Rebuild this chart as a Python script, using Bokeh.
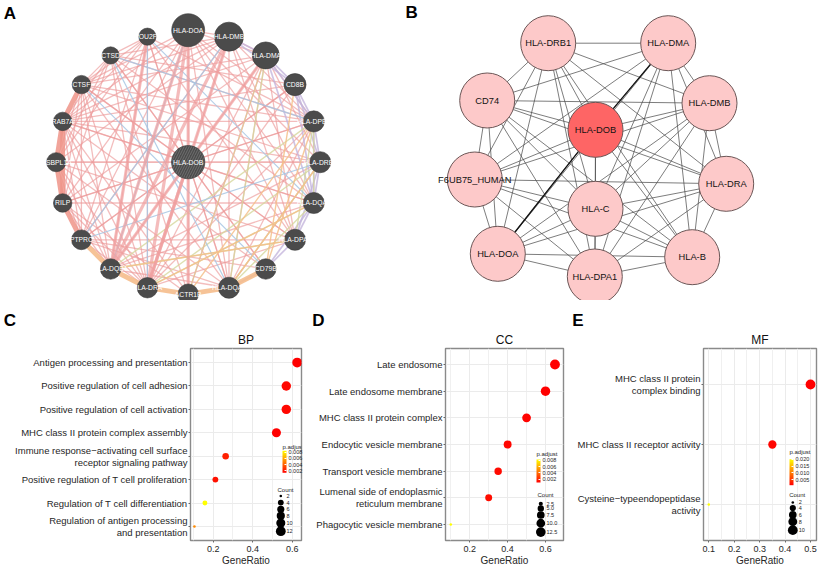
import math
from itertools import combinations
from bokeh.plotting import figure
from bokeh.models import (ColumnDataSource, Range1d, FixedTicker, LinearColorMapper,
                          ColorBar, PrintfTickFormatter, Title, AllLabels)
from bokeh.layouts import column, row
from bokeh.embed import file_html
from bokeh.resources import INLINE
from bokeh.core.properties import value

FONT = "Liberation Sans"

# ======================= DATA =======================
# ---- Panel A: GeneMANIA network (query gene in the centre, related genes clockwise from top)
A_query = "HLA-DOB"
A_genes = ["HLA-DOA", "HLA-DMB", "HLA-DMA", "CD8B", "HLA-DPB1", "HLA-DRB3", "HLA-DQA2",
           "HLA-DPA1", "CD79B", "HLA-DQA1", "ACTR1B", "HLA-DRA", "HLA-DQB1", "PTPRC",
           "RILP", "OSBPL1A", "RAB7A", "CTSF", "CTSD", "POU2F2"]
A_scores = [1.00, 0.88, 0.82, 0.67, 0.64, 0.64, 0.64, 0.64, 0.62, 0.64,
            0.62, 0.62, 0.62, 0.60, 0.56, 0.58, 0.56, 0.56, 0.52, 0.52]
A_query_score = 1.01
# edges: index 20 = query gene
A_physical = [(20, 0), (20, 1), (20, 2), (20, 3), (20, 4), (20, 5), (20, 6), (20, 7), (20, 8), (20, 9),
              (20, 10), (20, 11), (20, 12), (20, 13), (20, 14), (20, 15), (20, 16), (20, 17), (20, 18), (20, 19),
              (0, 1), (0, 2), (0, 4), (0, 5), (0, 6), (0, 7), (0, 9), (0, 13), (0, 14), (0, 16), (0, 17),
              (1, 2), (1, 4), (1, 6), (1, 7), (1, 9), (1, 13), (1, 15), (1, 16), (1, 17), (1, 18),
              (2, 4), (2, 5), (2, 7), (2, 9), (2, 11), (2, 14), (2, 16), (2, 17),
              (3, 11), (3, 13), (3, 16), (3, 18),
              (4, 9), (4, 11), (4, 14), (4, 16), (4, 17), (4, 18), (4, 19),
              (5, 9), (5, 12), (5, 15), (5, 16), (5, 17),
              (6, 12), (6, 14), (6, 16), (6, 18),
              (7, 11), (7, 13), (7, 15), (7, 17), (7, 19),
              (8, 13), (8, 16), (8, 18),
              (9, 12), (9, 13), (9, 15), (9, 17), (9, 19),
              (10, 14), (10, 16), (10, 18),
              (11, 13), (11, 14), (11, 15), (11, 16), (11, 17), (11, 18), (11, 19),
              (12, 14), (12, 15), (12, 16), (12, 17), (12, 19),
              (13, 15), (13, 16), (13, 17), (13, 19),
              (14, 17), (14, 18), (15, 17), (15, 18), (15, 19), (16, 18), (16, 19),
              (17, 18), (17, 19), (18, 19)]
A_physical_strong = [(0, 11), (1, 11), (20, 11), (0, 12), (2, 12), (1, 12), (0, 10), (19, 12)]
A_ring_strong = [(16, 15), (15, 14), (16, 14), (14, 13), (17, 16)]
A_predicted_strong = [(12, 11), (11, 10), (10, 9), (9, 8), (13, 12)]
A_predicted = [(9, 5), (8, 3), (10, 4), (11, 6), (12, 7), (10, 2), (8, 4)]
A_coexpression = [(1, 2), (2, 3), (3, 4), (4, 5), (5, 6), (6, 7), (7, 8), (8, 9),
                  (2, 4), (3, 5), (4, 6), (5, 7), (6, 8), (1, 3), (3, 6), (2, 6)]
A_shared_domains = [(4, 6), (4, 7), (5, 9), (6, 9), (7, 12), (4, 12), (5, 11), (6, 11), (2, 9)]
A_colocalization = [(19, 11), (18, 9), (0, 12), (2, 10), (13, 5), (17, 8), (1, 13), (19, 6), (18, 4)]

# ---- Panel B: STRING protein-protein interaction network (layout coordinates)
B_nodes = ["HLA-DRB1", "HLA-DMA", "CD74", "HLA-DOB", "HLA-DMB", "F6UB75_HUMAN",
           "HLA-DRA", "HLA-C", "HLA-DOA", "HLA-DPA1", "HLA-B"]
B_layout_x = [137.7, 257.7, 76.7, 185.0, 299.0, 64.3, 315.7, 185.0, 87.3, 184.3, 281.7]
B_layout_y = [42.7, 42.7, 100.0, 129.3, 102.7, 179.0, 183.3, 208.3, 253.3, 276.0, 256.7]
B_query = "HLA-DOB"
B_edges = list(combinations(B_nodes, 2))          # every pair of proteins is linked
B_strong_edges = [("HLA-DOB", "HLA-DMA"), ("HLA-DOB", "HLA-DOA")]

# ---- Panels C-E: GO enrichment dot plots (terms listed top to bottom)
C_terms = ["Antigen processing and presentation",
           "Positive regulation of cell adhesion",
           "Positive regulation of cell activation",
           "MHC class II protein complex assembly",
           "Immune response\u2212activating cell surface\nreceptor signaling pathway",
           "Positive regulation of T cell proliferation",
           "Regulation of T cell differentiation",
           "Regulation of antigen processing\nand presentation"]
C_ratio = [0.625, 0.57, 0.57, 0.52, 0.263, 0.211, 0.158, 0.105]
C_count = [12, 11, 11, 10, 5, 4, 3, 2]
C_padj = [0.0013, 0.0015, 0.0015, 0.0013, 0.0022, 0.0018, 0.0085, 0.0052]

D_terms = ["Late endosome",
           "Late endosome membrane",
           "MHC class II protein complex",
           "Endocytic vesicle membrane",
           "Transport vesicle membrane",
           "Lumenal side of endoplasmic\nreticulum membrane",
           "Phagocytic vesicle membrane"]
D_ratio = [0.65, 0.60, 0.50, 0.40, 0.35, 0.30, 0.10]
D_count = [13, 12, 10, 8, 7, 6, 2]
D_padj = [0.0009, 0.0009, 0.0010, 0.0011, 0.0012, 0.0013, 0.0083]

E_terms = ["MHC class II protein\ncomplex binding",
           "MHC class II receptor activity",
           "Cysteine\u2212typeendopeptidase\nactivity"]
E_ratio = [0.50, 0.35, 0.10]
E_count = [10, 7, 2]
E_padj = [0.0008, 0.0012, 0.0201]

C_padj_ticks = [0.002, 0.004, 0.006, 0.008]
D_padj_ticks = [0.002, 0.004, 0.006, 0.008]
E_padj_ticks = [0.005, 0.010, 0.015, 0.020]
C_count_breaks = [2, 4, 6, 8, 10, 12]
D_count_breaks = [2.5, 5.0, 7.5, 10.0, 12.5]
E_count_breaks = [2, 4, 6, 8, 10]

# ======================= LAYOUT / STYLE =======================
W, TOP_H, BOT_H = 820, 300, 268
FR_TOP, FR_BOT = 48, 25
TXT = "#262626"


def red_yellow(n=256):
    return ["#%02x%02x%02x" % (255, int(round(255 * k / (n - 1))), 0) for k in range(n)]


PALETTE = red_yellow()

# ---------------- top row (A + B) ----------------
top = figure(width=W, height=TOP_H, x_range=Range1d(0, W), y_range=Range1d(TOP_H, 0),
             output_backend="svg", toolbar_location=None,
             x_axis_location=None, y_axis_location=None, min_border=0)
top.outline_line_color = None
top.xgrid.visible = False
top.ygrid.visible = False

# A: circular layout around the query gene
cx, cy, R = 187.7, 161.7, 132.0
nA = len(A_genes)
ax = [cx + R * math.sin(2 * math.pi * k / nA) for k in range(nA)] + [cx]
ay = [cy - R * math.cos(2 * math.pi * k / nA) for k in range(nA)] + [cy]


def a_edges(pairs, color, width, alpha):
    src = ColumnDataSource(dict(x0=[ax[i] for i, j in pairs], y0=[ay[i] for i, j in pairs],
                                x1=[ax[j] for i, j in pairs], y1=[ay[j] for i, j in pairs]))
    top.segment("x0", "y0", "x1", "y1", source=src, line_color=color,
                line_width=width, line_alpha=alpha)


a_edges(A_physical, "#ec9a9a", 1.3, 0.65)
a_edges(A_coexpression, "#c4b5dc", 1.7, 0.8)
a_edges(A_shared_domains, "#d6d79c", 1.4, 0.8)
a_edges(A_colocalization, "#a7c6e3", 1.2, 0.85)
a_edges(A_predicted, "#f5c08a", 1.4, 0.85)
a_edges(A_physical_strong, "#ef9f9f", 3.2, 0.7)
a_edges(A_ring_strong, "#ee9488", 4.8, 0.85)
a_edges(A_predicted_strong, "#f5bd8c", 4.8, 0.9)

top.scatter(ax[:nA], ay[:nA], size=[33.0 * s for s in A_scores],
            fill_color="#4b4b4b", line_color="#3a3a3a", line_width=0.6)
top.scatter([cx], [cy], size=[33.0 * A_query_score], fill_color="#4b4b4b",
            line_color="#3a3a3a", line_width=0.6, hatch_pattern="/",
            hatch_color="#6e6e6e", hatch_scale=5, hatch_weight=1)
top.text(x=ax, y=ay, text=A_genes + [A_query], text_align="center", text_baseline="middle",
         text_color="white", text_font=value(FONT), text_font_size="6.8px")

# B: STRING network
B_ox = 410.0
bx = {n: B_ox + x for n, x in zip(B_nodes, B_layout_x)}
by = {n: y for n, y in zip(B_nodes, B_layout_y)}
top.segment(x0=[bx[a] for a, b in B_edges], y0=[by[a] for a, b in B_edges],
            x1=[bx[b] for a, b in B_edges], y1=[by[b] for a, b in B_edges],
            line_color="#4a4a4a", line_width=0.8, line_alpha=0.9)
top.segment(x0=[bx[a] for a, b in B_strong_edges], y0=[by[a] for a, b in B_strong_edges],
            x1=[bx[b] for a, b in B_strong_edges], y1=[by[b] for a, b in B_strong_edges],
            line_color="#111111", line_width=1.3)
top.scatter([bx[n] for n in B_nodes], [by[n] for n in B_nodes], size=55,
            fill_color=["#fe6565" if n == B_query else "#fdc9c9" for n in B_nodes],
            line_color="#6b5656", line_width=1)
top.text(x=[bx[n] for n in B_nodes], y=[by[n] for n in B_nodes], text=B_nodes,
         text_align="center", text_baseline="middle", text_color="#111111",
         text_font=value(FONT), text_font_size="9.3px")

top.text(x=[3.3, 405], y=[12.5, 11.5], text=["A", "B"], text_align="left", text_baseline="middle",
         text_color="black", text_font=value(FONT), text_font_size="17px",
         text_font_style="bold")


# ---------------- bottom row (C, D, E) ----------------
def dot_panel(letter, letter_x, title, terms, ratio, count, padj, padj_ticks, breaks, brk_fmt,
              xlim, xticks, xminor, fig_w, mb_left, mb_right, lg):
    n = len(terms)
    ypos = list(range(n, 0, -1))
    fw = fig_w - mb_left - mb_right
    fh = BOT_H - FR_TOP - FR_BOT
    y0, y1 = 0.4, n + 0.6

    def dx(lx):
        return xlim[0] + (lx - mb_left) / fw * (xlim[1] - xlim[0])

    def dy(ly):
        return y1 - (ly - FR_TOP) / fh * (y1 - y0)

    p = figure(width=fig_w, height=BOT_H, x_range=Range1d(*xlim), y_range=Range1d(y0, y1),
               output_backend="svg", toolbar_location=None, title=letter,
               min_border_left=mb_left, min_border_right=mb_right,
               min_border_top=FR_TOP, min_border_bottom=FR_BOT)
    # panel letter (outermost title) and sub-ontology title (closest to the frame)
    p.title.align = "left"
    p.title.offset = letter_x - mb_left
    p.title.standoff = 0
    p.title.text_font = FONT
    p.title.text_font_size = "17px"
    p.title.text_font_style = "bold"
    p.title.text_color = "black"
    p.add_layout(Title(text=title, align="center", standoff=3,
                       text_font=FONT, text_font_size="12px", text_font_style="normal",
                       text_color="#111111"), "above")
    p.outline_line_color = "#8a8a8a"
    p.outline_line_width = 1.4

    xt = FixedTicker(ticks=xticks, minor_ticks=xminor)
    yt = FixedTicker(ticks=ypos)
    p.xaxis.ticker = xt
    p.yaxis.ticker = yt
    p.xgrid.ticker = xt
    p.ygrid.ticker = yt
    p.xgrid.grid_line_color = "#ebebeb"
    p.xgrid.minor_grid_line_color = "#f0f0f0"
    p.ygrid.grid_line_color = "#ebebeb"
    p.yaxis.major_label_overrides = {y: t for y, t in zip(ypos, terms)}
    for axis in (p.xaxis, p.yaxis):
        axis.axis_line_color = None
        axis.major_tick_line_color = "#6a6a6a"
        axis.major_tick_in = 0
        axis.major_tick_out = 2
        axis.minor_tick_line_color = None
        axis.major_label_text_font = FONT
        axis.major_label_text_color = TXT
        axis.major_label_standoff = 1
    p.yaxis.major_label_text_font_size = "9.5px"
    p.yaxis.major_label_text_line_height = 1.1
    p.xaxis.major_label_text_font_size = "9px"
    p.xaxis.axis_label = "GeneRatio"
    p.xaxis.axis_label_text_font = FONT
    p.xaxis.axis_label_text_font_size = "10px"
    p.xaxis.axis_label_text_font_style = "normal"
    p.xaxis.axis_label_text_color = TXT
    p.xaxis.axis_label_standoff = 0

    cmin, cmax = min(count + breaks), max(count + breaks)

    def dot_size(c):
        return 2.6 + 7.2 * math.sqrt((c - cmin) / (cmax - cmin))

    mapper = LinearColorMapper(palette=PALETTE, low=min(padj), high=max(padj))
    src = ColumnDataSource(dict(x=ratio, y=ypos, s=[dot_size(c) for c in count], padj=padj))
    p.scatter("x", "y", size="s", source=src, line_color=None,
              fill_color={"field": "padj", "transform": mapper})

    # legends (inside the panel, right side)
    fr = mb_left + fw
    k = fh / 194.5
    cb = ColorBar(color_mapper=mapper, ticker=FixedTicker(ticks=padj_ticks),
                  formatter=PrintfTickFormatter(format="%.3f"),
                  major_label_policy=AllLabels(),
                  width=4, height=lg["cbh"], padding=0, margin=0,
                  location=(fw - lg["cbx"], fh - k * lg["cbt"] - lg["cbh"]),
                  major_label_text_font=FONT, major_label_text_font_size="5.5px",
                  major_label_text_color=TXT, label_standoff=2,
                  major_tick_line_color="white", major_tick_in=2, major_tick_out=0,
                  minor_tick_line_color=None, bar_line_color=None,
                  background_fill_alpha=0, border_line_color=None)
    p.add_layout(cb, "center")
    p.text(x=[dx(fr - lg["cbx"])], y=[dy(FR_TOP + k * lg["tty"])], text=["p.adjust"],
           text_align="left", text_baseline="middle", text_color=TXT,
           text_font=value(FONT), text_font_size="6px")

    p.text(x=[dx(fr - lg["ctx"])], y=[dy(FR_TOP + k * lg["cty"])], text=["Count"],
           text_align="left", text_baseline="middle", text_color=TXT,
           text_font=value(FONT), text_font_size="6px")
    ly = [dy(FR_TOP + k * v) for v in lg["dys"]]
    p.scatter([dx(fr - lg["dx"])] * len(breaks), ly, size=[dot_size(b) for b in breaks],
              fill_color="black", line_color=None)
    p.text(x=[dx(fr - lg["lx"])] * len(breaks), y=ly, text=[brk_fmt % b for b in breaks],
           text_align="left", text_baseline="middle", text_color=TXT,
           text_font=value(FONT), text_font_size="5.5px")
    return p


pC = dot_panel("C", 3.3, "BP", C_terms, C_ratio, C_count, C_padj, C_padj_ticks, C_count_breaks, "%d",
               (0.085, 0.647), [0.2, 0.4, 0.6], [0.1, 0.3, 0.5], 306, 190, 5,
               dict(cbx=19, tty=100.1, cbt=105, cbh=22, ctx=24, cty=143.5, dx=20.7,
                    dys=[149.5, 156.1, 162.8, 169.5, 176.8, 185.1], lx=15))
pD = dot_panel("D", 5.7, "CC", D_terms, D_ratio, D_count, D_padj, D_padj_ticks, D_count_breaks, "%.1f",
               (0.072, 0.695), [0.2, 0.4, 0.6], [0.1, 0.3, 0.5], 262, 139, 5,
               dict(cbx=27, tty=107, cbt=113.7, cbh=23, ctx=26, cty=148.7, dx=22.7,
                    dys=[157.3, 162, 168.7, 177, 186], lx=17))
pE = dot_panel("E", 3.7, "MF", E_terms, E_ratio, E_count, E_padj, E_padj_ticks, E_count_breaks, "%d",
               (0.0792, 0.5236), [0.1, 0.2, 0.3, 0.4, 0.5], [0.15, 0.25, 0.35, 0.45], 252, 135, 4,
               dict(cbx=27, tty=105, cbt=113.4, cbh=26, ctx=27.3, cty=148.4, dx=23.7,
                    dys=[156, 161.7, 168.4, 175.4, 184], lx=17.7))

layout = column(top, row(pC, pD, pE))
open("out.html", "w").write(file_html(layout, INLINE))
